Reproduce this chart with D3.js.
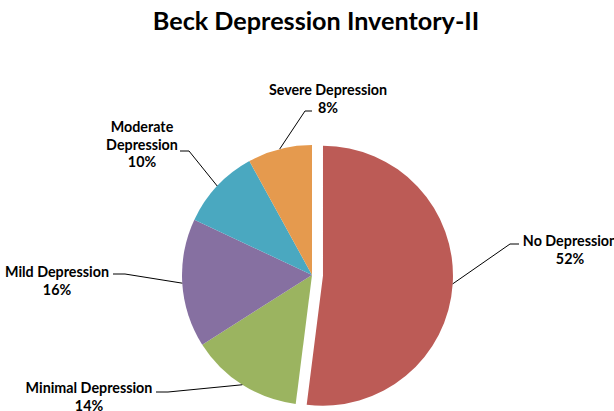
<!DOCTYPE html>
<html><head><meta charset="utf-8">
<script src="https://cdn.jsdelivr.net/npm/d3@7"></script>
<style>body{margin:0;background:#fff;}svg{display:block;}</style>
</head><body>
<svg id="chart" width="614" height="411"></svg>
<script>
const categories = ["No Depression", "Minimal Depression", "Mild Depression", "Moderate Depression", "Severe Depression"];
const values = [52, 14, 16, 10, 8];
const labelLines = [["No Depression", "52%"], ["Minimal Depression", "14%"], ["Mild Depression", "16%"], ["Moderate", "Depression", "10%"], ["Severe Depression", "8%"]];

const colors = ["#BC5B56", "#9BB460", "#8670A1", "#4AA8C0", "#E59A4E"];
// label layout: text centre x, first baseline y, elbow and end of leader line
const labelLayout = [
  {x: 570, y: 246, elbow: [510, 244], end: [519, 244]},
  {x: 89,  y: 393, elbow: [168, 392], end: [156, 392]},
  {x: 57,  y: 277, elbow: [125, 274], end: [113, 274]},
  {x: 142, y: 132, elbow: [189, 151], end: [180, 151]},
  {x: 328, y: 95,  elbow: [305, 111], end: [312, 111]}
];

const svg = d3.select("#chart");
const cx = 312, cy = 275, R = 130, explode = 11;
const fontFam = "Lato, 'Open Sans', sans-serif";

svg.append("text").attr("x", 316).attr("y", 30).attr("text-anchor", "middle")
  .attr("font-family", fontFam).attr("font-weight", "bold").attr("font-size", 25.2)
  .attr("fill", "#000").text("Beck Depression Inventory-II");

const pie = d3.pie().sort(null).value(d => d)(values);
const arc = d3.arc().innerRadius(0).outerRadius(R);

const g = svg.append("g").attr("transform", `translate(${cx},${cy})`);
pie.forEach((p, i) => {
  const mid = (p.startAngle + p.endAngle) / 2;
  const off = i === 0 ? explode : 0;
  const dx = off * Math.sin(mid), dy = -off * Math.cos(mid);
  g.append("path").attr("d", arc(p)).attr("fill", colors[i])
    .attr("transform", `translate(${dx},${dy})`);
  const ex = cx + dx + R * Math.sin(mid), ey = cy + dy - R * Math.cos(mid);
  const L = labelLayout[i];
  svg.append("polyline").attr("points", [[ex, ey], L.elbow, L.end].map(p => p.join(",")).join(" "))
    .attr("fill", "none").attr("stroke", "#000").attr("stroke-width", 1);
  const t = svg.append("text").attr("text-anchor", "middle")
    .attr("font-family", fontFam).attr("font-weight", "bold").attr("font-size", 14.3).attr("fill", "#000");
  labelLines[i].forEach((ln, j) => {
    t.append("tspan").attr("x", L.x).attr("y", L.y + j * 17.5).text(ln);
  });
});
</script>
</body></html>
